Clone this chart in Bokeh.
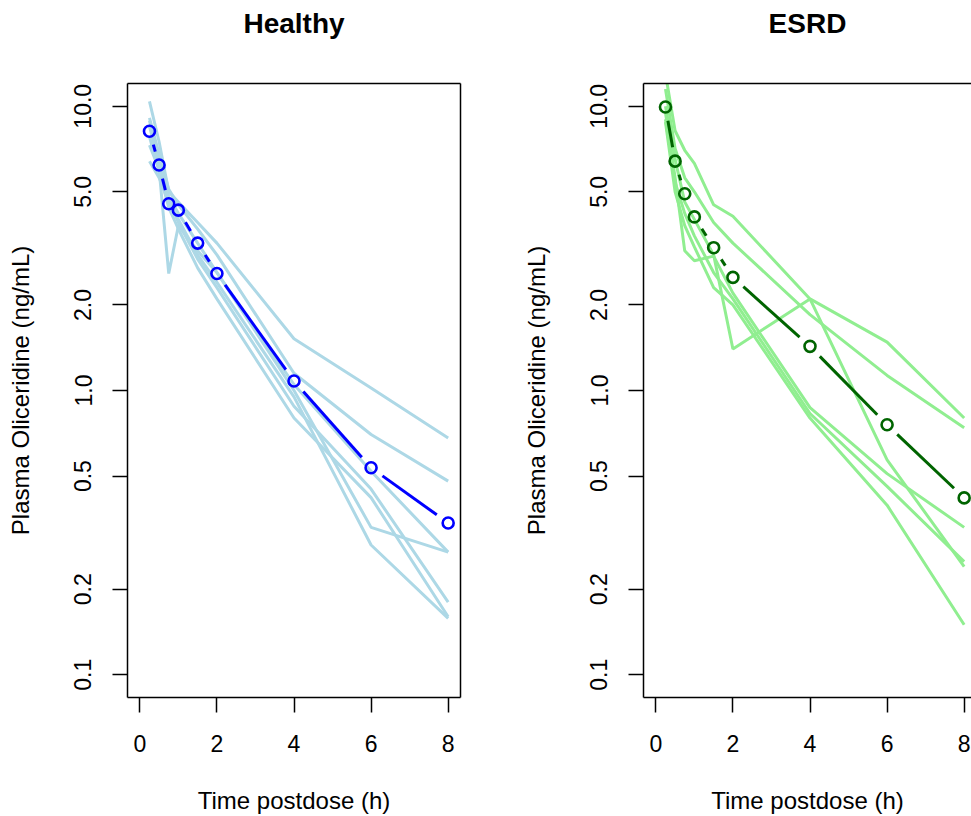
import math
from bokeh.plotting import figure
from bokeh.models import Range1d, FixedTicker, LinearAxis
from bokeh.layouts import row
from bokeh.embed import file_html
from bokeh.resources import INLINE

# ---------------- data ----------------
times = [0.25, 0.5, 0.75, 1, 1.5, 2, 4, 6, 8]

healthy_subjects = [
    [10.4, 7.5, 5.0, 4.6, 3.9, 3.3, 1.52, 1.02, 0.68],
    [9.1, 6.8, 5.1, 4.5, 3.7, 3.0, 1.15, 0.70, 0.48],
    [7.3, 6.0, 2.58, 3.8, 3.1, 2.6, 1.05, 0.52, 0.27],
    [8.9, 6.4, 4.8, 4.2, 3.3, 2.6, 1.00, 0.33, 0.27],
    [6.4, 5.6, 4.6, 4.0, 3.0, 2.4, 0.95, 0.286, 0.158],
    [8.5, 6.3, 4.7, 3.9, 2.9, 2.3, 0.88, 0.45, 0.18],
    [7.8, 5.9, 4.4, 3.7, 2.7, 2.1, 0.80, 0.42, 0.16],
]
healthy_mean = [8.17, 6.21, 4.54, 4.31, 3.30, 2.58, 1.08, 0.535, 0.342]

esrd_subjects = [
    [13.0, 8.2, 7.0, 6.3, 4.5, 4.1, 2.10, 1.48, 0.80],
    [11.5, 7.1, 5.6, 5.0, 3.9, 3.3, 1.85, 1.13, 0.74],
    [10.0, 6.5, 4.6, 4.0, 3.0, 1.40, 2.10, 0.57, 0.24],
    [9.5, 5.6, 3.1, 2.86, 2.97, 2.2, 0.87, 0.51, 0.33],
    [8.8, 5.0, 3.8, 3.2, 2.3, 2.0, 0.80, 0.395, 0.15],
    [9.0, 5.4, 4.2, 3.5, 2.6, 2.1, 0.83, 0.46, 0.25],
]
esrd_mean = [9.94, 6.41, 4.92, 4.08, 3.18, 2.50, 1.43, 0.758, 0.419]

x_ticks = [0, 2, 4, 6, 8]
y_ticks = [0.1, 0.2, 0.5, 1, 2, 5, 10]
y_tick_labels = ["0.1", "0.2", "0.5", "1.0", "2.0", "5.0", "10.0"]
panel_titles = ["Healthy", "ESRD"]
x_label = "Time postdose (h)"
y_label = "Plasma Oliceridine (ng/mL)"

# ---------------- layout constants ----------------
FONT = "Liberation Sans"
X_START, X_END = -0.32, 8.32
LOG_LO, LOG_HI = -1.08, 1.08
FRAME_W, FRAME_H = 333, 614
BORDER_L, BORDER_T, BORDER_B = 127, 83, 119
FIG_H = BORDER_T + FRAME_H + BORDER_B
PX_PER_X = FRAME_W / (X_END - X_START)
PX_PER_DEC = FRAME_H / (LOG_HI - LOG_LO)
GAP = 14  # px gap around points (R type="b")


def gapped_segments(xs, ys):
    x0s, y0s, x1s, y1s = [], [], [], []
    for i in range(len(xs) - 1):
        ax, ay = xs[i] * PX_PER_X, math.log10(ys[i]) * PX_PER_DEC
        bx, by = xs[i + 1] * PX_PER_X, math.log10(ys[i + 1]) * PX_PER_DEC
        dx, dy = bx - ax, by - ay
        d = math.hypot(dx, dy)
        if d <= 2 * GAP:
            continue
        ux, uy = dx / d, dy / d
        x0s.append((ax + ux * GAP) / PX_PER_X)
        y0s.append(10 ** ((ay + uy * GAP) / PX_PER_DEC))
        x1s.append((bx - ux * GAP) / PX_PER_X)
        y1s.append(10 ** ((by - uy * GAP) / PX_PER_DEC))
    return x0s, y0s, x1s, y1s


def border_axis(**kw):
    return LinearAxis(ticker=FixedTicker(ticks=[]), major_tick_out=0, major_tick_in=0,
                      major_label_standoff=0, major_label_text_font_size="0px",
                      minor_tick_line_color=None, major_tick_line_color=None,
                      axis_line_color="black", axis_line_width=1.5, **kw)


def make_panel(title, subjects, mean, light, dark, frame_w, border_r, x_end, clipped):
    p = figure(
        width=BORDER_L + frame_w + border_r, height=FIG_H,
        x_range=Range1d(X_START, x_end),
        y_range=Range1d(10 ** LOG_LO, 10 ** LOG_HI),
        y_axis_type="log",
        output_backend="svg", toolbar_location=None,
        min_border_left=BORDER_L, min_border_right=border_r,
        min_border_top=BORDER_T, min_border_bottom=BORDER_B,
        background_fill_color="white", border_fill_color="white",
    )
    p.grid.visible = False
    p.outline_line_color = None

    for ax in (p.xaxis, p.yaxis):
        ax.major_tick_out = 15
        ax.major_tick_in = 0
        ax.major_tick_line_color = "black"
        ax.major_tick_line_width = 1.5
        ax.minor_tick_line_color = None
        ax.major_label_text_font = FONT
        ax.major_label_text_font_size = "23px"
        ax.major_label_text_color = "black"
        ax.axis_line_color = "black"
        ax.axis_line_width = 1.5
        ax.axis_label_text_font = FONT
        ax.axis_label_text_font_size = "24px"
        ax.axis_label_text_font_style = "normal"
        ax.axis_label_text_color = "black"
    p.xaxis.ticker = FixedTicker(ticks=x_ticks)
    p.xaxis.major_label_standoff = 22
    p.xaxis.axis_label = x_label
    p.xaxis.axis_label_standoff = 32
    p.yaxis.ticker = FixedTicker(ticks=y_ticks)
    p.yaxis.major_label_overrides = dict(zip(y_ticks, y_tick_labels))
    p.yaxis.major_label_orientation = "vertical"
    p.yaxis.major_label_standoff = 21
    p.yaxis.axis_label = y_label
    p.yaxis.axis_label_standoff = 38

    # top border line carrying the panel title
    p.add_layout(border_axis(axis_label=title, axis_label_text_font=FONT,
                             axis_label_text_font_size="28px",
                             axis_label_text_font_style="bold",
                             axis_label_text_color="black",
                             axis_label_standoff=45), "above")
    if not clipped:
        p.add_layout(border_axis(), "right")

    # individual subjects
    p.multi_line(xs=[times] * len(subjects), ys=subjects,
                 line_color=light, line_width=3)
    # mean profile, R type="b"
    x0, y0, x1, y1 = gapped_segments(times, mean)
    p.segment(x0=x0, y0=y0, x1=x1, y1=y1, line_color=dark, line_width=3)
    p.scatter(x=times, y=mean, marker="circle", size=11,
              fill_color=None, line_color=dark, line_width=2.6)
    return p


RIGHT_FRAME_W = 328
p1 = make_panel(panel_titles[0], healthy_subjects, healthy_mean,
                "#ADD8E6", "#0000FF", FRAME_W, 56, X_END, False)
p2 = make_panel(panel_titles[1], esrd_subjects, esrd_mean,
                "#90EE90", "#006400", RIGHT_FRAME_W, 0,
                X_START + RIGHT_FRAME_W / PX_PER_X, True)

layout = row(p1, p2)
open("out.html", "w").write(file_html(layout, INLINE))
